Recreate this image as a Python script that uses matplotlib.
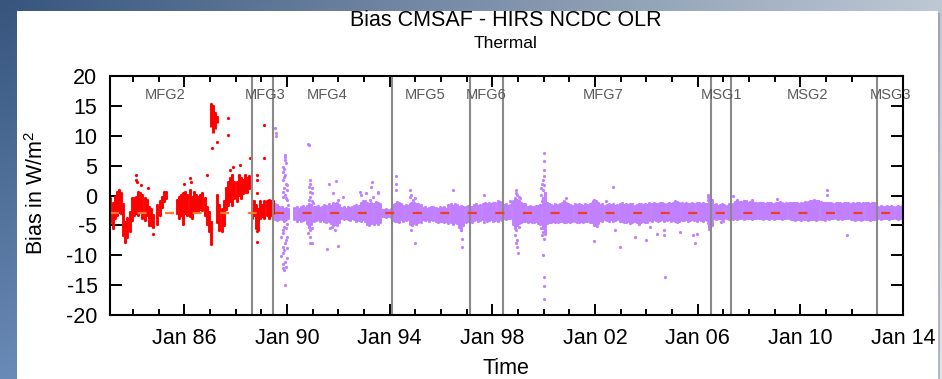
import numpy as np
import matplotlib
matplotlib.use('Agg')
import matplotlib.pyplot as plt
from matplotlib.patches import Rectangle

plt.rcParams['font.family'] = ['Liberation Sans', 'DejaVu Sans']
plt.rcParams['mathtext.fontset'] = 'custom'
plt.rcParams['mathtext.rm'] = 'Liberation Sans'
plt.rcParams['lines.scale_dashes'] = False

# ---------------- data ----------------
title = "Bias CMSAF - HIRS NCDC OLR"
subtitle = "Thermal"
xlabel = "Time"

x_major = [1986, 1990, 1994, 1998, 2002, 2006, 2010, 2014]
x_major_labels = ["Jan 86", "Jan 90", "Jan 94", "Jan 98", "Jan 02", "Jan 06", "Jan 10", "Jan 14"]
x_minor = list(range(1984, 2014))
y_ticks = [-20, -15, -10, -5, 0, 5, 10, 15, 20]

# satellite change dates (decimal years) and label positions
sat_change = [1988.63, 1989.47, 1994.08, 1997.13, 1998.40, 2006.52, 2007.30, 2012.97]
sat_names = ["MFG2", "MFG3", "MFG4", "MFG5", "MFG6", "MFG7", "MSG1", "MSG2", "MSG3"]
sat_label_x = [1985.25, 1989.14, 1991.55, 1995.40, 1997.75, 2002.30, 2006.93, 2010.28, 2013.53]

mean_bias = -3.0

# red series (MFG2-MFG3 era): monthly envelopes, month index from Jan 1983
red_m0 = 1
nan = float('nan')
red_hi = [-0.5, -1.3, -0.2, 0.6, 0.9, 0.4, -1.5, -4.4, -3.8, -2.7,
          -0.5, -0.5, -0.2, 0.6, 0.4, 0.1, -0.5, -0.8, -1.9, -2.2,
          -3.3, nan, -1.6, -1.0, -0.2, 0.6, 0.6, nan, nan, nan,
          nan, -0.8, -0.2, 0.1, 0.4, 0.6, 0.1, 0.9, -0.2, 0.6,
          0.1, -0.2, 0.1, 0.4, -0.5, -1.9, -2.7, -4.4, nan, nan,
          0.1, -1.6, -2.2, -1.0, 1.2, 2.3, 2.9, 3.4, 2.3, 2.3,
          3.4, 2.9, 2.6, 3.4, 2.9, 3.2, -1.0, -1.0, -1.6, -2.2,
          -1.0, -1.6, -1.0, -1.0, -0.8, -1.0, -1.0]
red_lo = [-4.4, -5.5, -3.8, -3.3, -2.7, -3.0, -6.6, -7.7, -6.9, -6.0,
          -4.1, -3.3, -3.0, -3.3, -2.4, -3.8, -4.1, -3.3, -4.9, -4.9,
          -5.2, nan, -4.7, -3.3, -1.9, -1.0, -0.5, nan, nan, nan,
          nan, -3.0, -3.8, -3.3, -4.7, -3.0, -3.3, -3.5, -3.8, -2.7,
          -2.4, -2.7, -2.2, -2.4, -3.3, -4.7, -6.0, -8.1, nan, nan,
          -4.4, -5.8, -6.0, -4.9, -2.2, -1.6, -1.0, -1.6, -0.5, -1.0,
          0.1, -0.5, 0.4, 0.6, 0.6, 1.2, -3.8, -3.3, -5.5, -5.8,
          -3.8, -3.5, -3.8, -3.3, -3.8, -3.3, -3.0]
# red high-bias cluster early 1987
red_hc_m = [48, 49, 50, 51]
red_hc_hi = [15.3, 14.9, 13.8, 13.2]
red_hc_lo = [11.5, 10.4, 11.2, 12.1]
# red isolated points
red_pt_x = [1984.14, 1984.14, 1984.32, 1984.58, 1984.80, 1985.99, 1986.21, 1986.87,
            1987.07, 1987.27, 1987.72, 1987.72, 1987.79, 1987.91, 1988.18, 1988.57,
            1988.83, 1988.84, 1988.85, 1988.83, 1988.83, 1989.11, 1989.11, 1984.15,
            1986.25]
red_pt_y = [3.4, 2.6, 1.8, 1.2, -6.5, 2.0, 2.9, 3.4,
            7.9, 9.0, 12.9, 10.2, 4.3, 4.7, 5.1, 6.2,
            3.4, 2.6, 0.4, -6.0, -7.7, 11.8, 6.2, 2.3,
            2.3]

# purple series (MFG4 - MSG3 era): monthly envelopes starting Jul 1989
pur_m0 = 78
pur_hi = ([-1.4, -1.6, -1.9, -2.0, -2.2, -2.1, -2.3]
          + [nan, nan]
          + [-2.1, -1.9, -2.2, -2.0, -1.8, -2.1]
          + [-1.7, -1.5, -1.6, -2.0]
          + [-2.0, -1.8, -2.1, -1.9]
          + [-1.6, -1.8, -1.5, -1.7]
          + [-1.3, -1.5, -1.2, -1.6]
          + [-2.1, -2.0, -2.2, -1.9, -2.1, -2.0]
          + [-1.7, -1.6, -1.8, -1.2, -1.0, -1.4]
          + [-1.3, -1.5, -1.2, -1.4, -1.1, -1.3, -1.5]
          + [-2.4, -2.5, -2.3, -2.5]
          + [-2.3]
          + [-1.6, -1.4, -1.1, -1.2, -1.5, -1.7, -1.6, -1.8]
          + [-1.4, -1.3, -1.2, -1.5, -1.4, -1.6]
          + [-2.1, -2.0, -2.2, -2.1, -1.9, -2.0]
          + [-2.1, -2.2, -2.0, -2.1, -1.9, -2.2]
          + [-1.6, -1.5, -1.7, -1.4, -1.6]
          + [-1.9, -1.8, -2.0]
          + [-1.9, -1.8, -2.0, -1.9]
          + [-1.6, -1.5, -1.7, -1.6, -1.4]
          + [-1.3, -1.4, -1.2, -1.5, -1.3, -1.2, -1.0, -1.1, -1.3]
          + [-1.6, -1.5, -1.7, -1.6]
          + [-0.9, -0.5, -0.7, -1.0, -1.2, -1.4, -1.5]
          + [-1.9, -1.8, -2.0, -1.9, -1.7, -1.8, -1.6]
          + [-0.5, 0.5, -1.2, -1.5]
          + [-1.6, -1.7, -1.5, -1.6, -1.4, -1.2, -1.0, -1.3, -1.5, -1.6,
             -1.7, -1.5, -1.6, -1.4, -1.6, -1.7, -1.5, -1.6, -1.4, -1.3]
          + [-0.8, -0.9, -1.2]
          + [-1.6, -1.5, -1.7, -1.6, -1.4, -1.6, -1.5, -1.7, -1.6, -1.5, -1.4]
          + [-1.6, -1.5, -1.6, -1.4, -1.5, -1.7, -1.6, -1.5, -1.4, -1.6, -1.5, -1.6]
          + [-1.3, -1.4, -1.3, -1.5, -1.4, -1.3, -1.2, -1.4, -1.5, -1.3, -1.4, -1.2,
             -1.0, -1.1, -1.2, -1.3]
          + [-1.4, -1.3, -1.5, -1.4, -1.3, -1.4, -1.2, -1.3, -1.4, -1.3, -1.5, -1.4]
          + [-0.3, -0.8]
          + [-1.6, -1.5, -1.7, -1.6, -1.5, -1.6, -1.7, -1.5, -1.6, -1.4]
          + [-1.1, -1.0, -1.2, -1.1, -0.9, -1.0, -1.2, -1.1, -1.0, -1.2, -1.3, -1.2]
          + [-1.3, -1.2, -1.4, -1.3, -1.2, -1.3, -1.4, -1.2, -1.3, -1.1, -1.3, -1.4,
             -1.2, -1.3, -1.2]
          + [-1.3, -1.2, -1.3, -1.4, -1.2, -1.3, -1.2, -1.1, -1.0, -0.9, -0.8, -0.9,
             -1.0, -1.1, -1.2, -1.3]
          + [-1.3, -1.2, -1.3, -1.4, -1.3, -1.2, -1.3, -1.4, -1.3, -1.2, -1.3, -1.4]
          + [-1.3, -1.4, -1.2, -1.3, -1.4, -1.3, -1.2, -1.3, -1.4, -1.3, -1.2, -1.3]
          + [-1.9, -1.8, -1.9, -2.0, -1.8, -1.9, -1.8, -1.9, -2.0, -1.8, -1.9, -1.8])
pur_lo = ([-4.0, -4.1, -3.9, -3.9, -4.2, -4.0, -3.8]
          + [nan, nan]
          + [-4.0, -4.2, -3.9, -4.3, -4.1, -3.9]
          + [-4.6, -5.2, -4.8, -4.2]
          + [-4.1, -3.9, -4.2, -4.0]
          + [-4.3, -4.5, -4.2, -4.6]
          + [-4.9, -4.7, -5.0, -4.5]
          + [-3.8, -4.0, -3.7, -3.9, -4.1, -3.8]
          + [-4.0, -4.2, -4.1, -4.3, -4.0, -4.2]
          + [-4.7, -4.9, -4.6, -4.8, -4.5, -4.7, -4.4]
          + [-3.5, -3.4, -3.6, -3.5]
          + [-3.6]
          + [-4.1, -4.3, -4.2, -4.4, -4.0, -4.2, -4.1, -3.9]
          + [-4.8, -4.9, -4.6, -4.7, -4.5, -4.4]
          + [-4.0, -4.1, -3.9, -4.2, -4.0, -4.1]
          + [-4.3, -4.4, -4.2, -4.3, -4.5, -4.2]
          + [-4.6, -4.5, -4.7, -4.4, -4.6]
          + [-5.2, -5.8, -5.0]
          + [-4.4, -4.3, -4.2, -4.4]
          + [-4.1, -4.0, -4.2, -4.1, -4.0]
          + [-4.0, -4.2, -4.1, -4.0, -4.3, -4.1, -4.2, -4.0, -4.1]
          + [-3.8, -3.9, -3.7, -3.8]
          + [-4.8, -5.4, -5.0, -4.6, -4.4, -4.3, -4.2]
          + [-4.4, -4.3, -4.5, -4.4, -4.2, -4.6, -4.8]
          + [-5.5, -6.5, -4.6, -4.4]
          + [-4.4, -4.3, -4.5, -4.4, -4.2, -4.3, -4.4, -4.5, -4.3, -4.4,
             -4.2, -4.3, -4.5, -4.4, -4.3, -4.4, -4.2, -4.3, -4.4, -4.5]
          + [-4.9, -5.0, -4.6]
          + [-4.1, -4.2, -4.0, -4.1, -4.3, -4.0, -4.2, -4.1, -4.0, -4.2, -4.3]
          + [-4.4, -4.5, -4.3, -4.6, -4.4, -4.3, -4.5, -4.7, -4.4, -4.3, -4.5, -4.4]
          + [-4.1, -4.2, -4.0, -4.1, -4.3, -4.1, -4.0, -4.2, -4.1, -4.0, -4.2, -4.1,
             -4.3, -4.4, -4.2, -4.1]
          + [-4.1, -4.0, -4.2, -4.1, -4.0, -4.1, -4.2, -4.0, -4.1, -4.2, -4.0, -4.1]
          + [-5.6, -5.0]
          + [-3.8, -3.9, -3.7, -3.8, -3.9, -3.8, -3.7, -3.9, -3.8, -3.9]
          + [-3.8, -3.9, -3.7, -3.8, -3.9, -3.8, -3.7, -3.8, -3.9, -3.8, -3.7, -3.8]
          + [-3.8, -3.9, -3.8, -3.7, -3.9, -3.8, -3.9, -3.8, -3.7, -3.8, -3.9, -3.8,
             -3.7, -3.8, -3.9]
          + [-4.0, -4.1, -3.9, -4.0, -4.1, -3.9, -4.0, -4.1, -4.0, -3.9, -4.0, -4.1,
             -4.0, -3.9, -4.0, -4.1]
          + [-3.8, -3.9, -3.8, -3.7, -3.8, -3.9, -3.8, -3.9, -3.8, -3.7, -3.8, -3.9]
          + [-4.0, -4.1, -3.9, -4.0, -4.1, -4.0, -3.9, -4.0, -4.1, -4.0, -3.9, -4.0]
          + [-3.8, -3.9, -3.8, -3.7, -3.8, -3.9, -3.8, -3.7, -3.8, -3.9, -3.8, -3.7])

# purple isolated points (decimal year, bias)
pur_pt = [
    (1989.55, 11.3), (1989.57, 10.5), (1989.56, 9.9),
    (1989.91, 6.8), (1989.93, 6.5), (1989.92, 5.9), (1989.96, 5.4), (1989.86, 4.8),
    (1989.90, 4.5), (1989.83, 4.0), (1989.92, 3.4), (1989.88, 3.1), (1989.86, 2.6),
    (1989.95, 2.0), (1989.99, 1.8), (1989.88, 1.2), (1989.99, 0.9), (1989.86, 0.6),
    (1989.92, 0.1), (1989.83, -0.2), (1989.95, -0.5), (1989.99, -0.8), (1990.05, -1.6),
    (1989.91, -4.1), (1989.99, -4.7), (1989.88, -5.2), (1989.96, -5.5), (1989.83, -5.8),
    (1989.86, -6.3), (1989.79, -6.9), (1989.99, -6.9), (1989.95, -7.4), (1989.92, -8.0),
    (1989.86, -8.6), (1990.01, -8.8), (1989.90, -9.1), (1989.83, -9.7), (1989.79, -10.2),
    (1989.99, -10.5), (1989.92, -11.1), (1989.86, -11.4), (1989.96, -11.9),
    (1989.86, -12.2), (1989.88, -12.5), (1989.92, -15.0),
    (1990.83, 8.7), (1990.86, 8.4), (1990.90, 2.6), (1990.92, 2.0), (1990.87, 1.5),
    (1990.96, 1.2), (1990.90, 0.6), (1990.99, 0.4), (1990.92, -0.2), (1990.87, -0.8),
    (1990.96, -1.0), (1991.00, -1.3), (1990.90, -1.8), (1990.86, -4.4), (1990.81, -4.7),
    (1990.87, -5.2), (1990.96, -5.5), (1990.92, -5.8), (1990.83, -6.3), (1990.90, -6.9),
    (1990.92, -8.0), (1990.97, -8.0),
    (1991.65, 1.9), (1991.91, 2.5), (1991.81, 0.4), (1992.00, -0.8), (1992.17, -0.2),
    (1991.57, -9.0), (1992.00, -8.45), (1991.74, -5.2), (1991.87, -5.8), (1991.67, -5.5),
    (1992.85, 0.6), (1992.87, 0.1), (1993.10, 0.5), (1993.30, 2.2), (1993.29, 1.5),
    (1993.37, -0.2), (1993.56, 0.6), (1993.54, 0.4), (1993.25, -0.8), (1993.05, -0.9),
    (1994.27, 3.2), (1994.27, 2.0), (1994.27, 0.9), (1994.79, 1.0), (1994.79, -0.2),
    (1994.85, 0.1), (1994.92, -0.8), (1994.98, -0.5), (1994.85, -1.3), (1994.85, -5.8),
    (1994.98, -8.0), (1996.48, 1.0), (1996.81, -4.7), (1996.79, -5.8), (1996.81, -7.2),
    (1996.81, -8.6),
    (1997.68, 0.08), (1997.68, -4.5),
    (1998.92, 0.9), (1998.94, 0.5), (1998.98, 0.1), (1999.05, -0.2), (1999.10, -0.5),
    (1998.92, -0.75), (1998.88, -1.6), (1998.71, -1.0), (1998.75, -1.3), (1998.92, -4.9),
    (1998.94, -5.8), (1998.88, -6.6), (1998.96, -7.5), (1998.92, -8.0), (1998.98, -8.6),
    (1999.01, -9.7), (1999.05, -5.2), (1998.85, -4.1),
    (2000.02, 7.06), (2000.02, 5.7), (2000.02, 4.3), (2000.01, 3.2), (1999.99, 2.6),
    (1999.92, 2.0), (2000.01, 1.8), (1999.89, 1.2), (1999.96, 0.9), (2000.05, 0.4),
    (1999.90, 0.1), (1999.99, -0.5), (1999.94, -1.0), (1999.86, -1.6), (2000.08, -1.3),
    (1999.92, -4.4), (1999.96, -5.0), (1999.90, -5.5), (1999.99, -6.1), (1999.94, -6.6),
    (2000.01, -7.2), (1999.99, -10.0), (2000.01, -13.6), (2000.01, -15.1), (2000.01, -17.4),
    (2000.87, -0.47), (2001.93, -0.86), (2001.93, -1.6), (2002.02, -1.9), (2001.98, -7.56),
    (2002.07, -5.1), (2002.45, -0.86), (2002.71, 1.48), (2002.78, -5.8), (2002.97, -8.56),
    (2003.04, -1.2), (2003.56, -7.0), (2003.97, -7.45), (2004.14, -5.2), (2004.40, -6.4),
    (2004.69, -5.77), (2004.69, -6.55), (2004.73, -13.7), (2005.31, -6.05),
    (2005.83, -6.6), (2005.89, -8.0), (2005.96, -6.4),
    (2006.41, 0.08), (2006.42, -0.2), (2006.42, -0.75), (2006.44, -5.5), (2006.44, -4.9),
    (2006.39, -4.6), (2006.90, -4.4), (2007.00, -4.2),
    (2007.36, -0.03), (2007.52, -0.75), (2007.65, -1.15), (2007.78, -1.3), (2007.80, -1.0),
    (2008.10, -0.75), (2008.43, -1.2), (2008.45, -1.6), (2009.10, -0.64), (2009.75, -1.3),
    (2010.18, -1.03), (2010.70, -0.87), (2011.03, 0.92), (2011.05, 0.08), (2011.83, -6.6),
    (2012.56, -1.2),
]
pur_pt_x = [p[0] for p in pur_pt]
pur_pt_y = [p[1] for p in pur_pt]

# ---------------- style ----------------
W, H = 942, 379
RED = '#ff0000'
PURPLE = '#c080ff'
VLINE = '#8a8a8a'
DASH_RED_ERA = '#ff7a2a'
DASH_PUR_ERA = '#f03c20'
XLIM = (1983.11, 2014.0)
YLIM = (-20, 20)

fig = plt.figure(figsize=(W / 100, H / 100), dpi=100)

# background gradient + white panel
bg = fig.add_axes([0, 0, 1, 1], zorder=-10)
gy, gx = np.mgrid[0:1:60j, 0:1:120j]
tl = np.array([55, 85, 125]) / 255
tr = np.array([190, 200, 212]) / 255
bl = np.array([105, 138, 182]) / 255
br = np.array([220, 226, 232]) / 255
grad = ((1 - gx)[..., None] * (1 - gy)[..., None] * tl + gx[..., None] * (1 - gy)[..., None] * tr
        + (1 - gx)[..., None] * gy[..., None] * bl + gx[..., None] * gy[..., None] * br)
bg.imshow(grad, extent=[0, W, H, 0], aspect='auto', interpolation='bilinear')
bg.add_patch(Rectangle((19, 13), 921, 370, facecolor='#30405a', alpha=0.25, lw=0))
bg.add_patch(Rectangle((17, 11), 921, 370, facecolor='white', lw=0))
bg.set_xlim(0, W)
bg.set_ylim(H, 0)
bg.axis('off')

ax = fig.add_axes([110 / W, (H - 315) / H, 793 / W, 239 / H])
ax.set_facecolor('white')
ax.set_xlim(*XLIM)
ax.set_ylim(*YLIM)

def month_x(m0, n):
    return 1983 + (np.arange(m0, m0 + n) + 0.5) / 12.0

BAR_LW = 2.1
MS = 2.3

# red envelopes
rx = month_x(red_m0, len(red_hi))
ax.vlines(rx, red_lo, red_hi, colors=RED, lw=BAR_LW, zorder=2)
ax.plot(rx, red_hi, 'o', ms=MS, mew=0, color=RED, zorder=2)
ax.plot(rx, red_lo, 'o', ms=MS, mew=0, color=RED, zorder=2)
hcx = 1983 + (np.array(red_hc_m) + 0.5) / 12.0
ax.vlines(hcx, red_hc_lo, red_hc_hi, colors=RED, lw=BAR_LW, zorder=2)
ax.plot(hcx, red_hc_hi, 'o', ms=MS, mew=0, color=RED, zorder=2)
ax.plot(red_pt_x, red_pt_y, 'o', ms=MS, mew=0, color=RED, zorder=2)

# purple envelopes
assert len(pur_hi) == len(pur_lo)
px = month_x(pur_m0, len(pur_hi))
ax.vlines(px, pur_lo, pur_hi, colors=PURPLE, lw=BAR_LW, zorder=1.5)
ax.plot(px, pur_hi, 'o', ms=MS, mew=0, color=PURPLE, zorder=1.5)
ax.plot(px, pur_lo, 'o', ms=MS, mew=0, color=PURPLE, zorder=1.5)
ax.plot(pur_pt_x, pur_pt_y, 'o', ms=MS, mew=0, color=PURPLE, zorder=1.5)

# satellite change lines
for xv in sat_change:
    ax.axvline(xv, color=VLINE, lw=1.5, zorder=3)
for name, xv in zip(sat_names, sat_label_x):
    ax.text(xv, 16.8, name, ha='center', va='center', fontsize=10.5, color='#5a5a5a', zorder=5)

# mean bias dashed lines (continuous dash phase)
px_per_year = 793 / (XLIM[1] - XLIM[0])
period_px = 27.55
dash_on, dash_off = 9 / 1.389, 18.55 / 1.389
def dashed(x0, x1, color):
    off_px = ((x0 - XLIM[0]) * px_per_year) % period_px
    ax.plot([x0, x1], [mean_bias, mean_bias], color=color, lw=1.6, zorder=4,
            dash_capstyle='butt', linestyle=(off_px / 1.389, (dash_on, dash_off)))
dashed(XLIM[0], sat_change[1], DASH_RED_ERA)
dashed(sat_change[1], XLIM[1], DASH_PUR_ERA)

# axes styling
for s in ax.spines.values():
    s.set_linewidth(1.5)
    s.set_zorder(6)
ax.set_xticks(x_major)
ax.set_xticklabels(x_major_labels)
ax.set_xticks(x_minor, minor=True)
ax.set_yticks(y_ticks)
ax.set_yticklabels([str(v) for v in y_ticks])
ax.tick_params(axis='both', which='major', direction='in', top=True, right=True,
               width=1.4, labelsize=15.5, pad=9)
ax.tick_params(axis='y', which='major', length=8.6)
ax.tick_params(axis='x', which='major', length=8)
ax.tick_params(axis='x', which='minor', direction='in', top=True, bottom=True,
               length=4.3, width=1.4)
ax.tick_params(axis='y', which='minor', left=False, right=False)

fig.text(506 / W, 1 - 20 / H, title, ha='center', va='center', fontsize=15.5)
fig.text(506 / W, 1 - 44 / H, subtitle, ha='center', va='center', fontsize=12.5)
fig.text(37 / W, 1 - 193 / H, "Bias in W/m$^{\\mathrm{2}}$", rotation=90, ha='center',
         va='center', fontsize=15.5)
fig.text(506 / W, 1 - 369 / H, xlabel, ha='center', va='center', fontsize=15.5)

fig.savefig('out.png', dpi=100)
